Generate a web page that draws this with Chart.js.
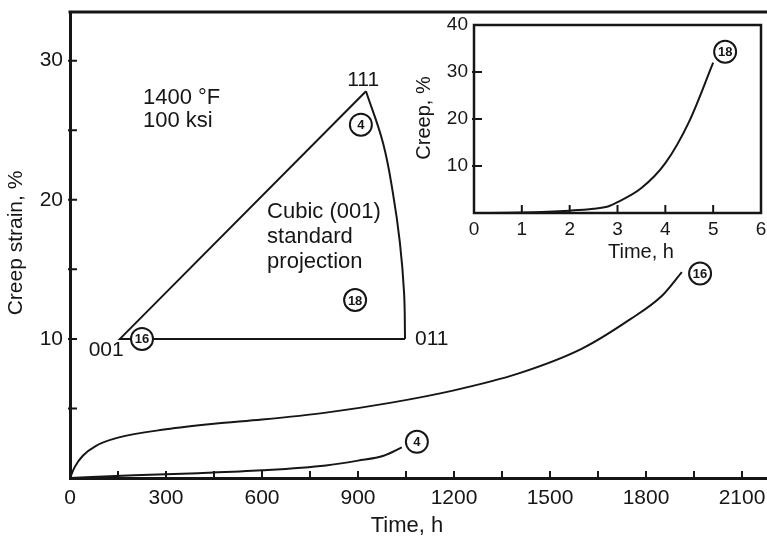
<!DOCTYPE html>
<html>
<head>
<meta charset="utf-8">
<title>Creep strain, 1400 °F / 100 ksi</title>
<script src="https://cdn.jsdelivr.net/npm/chart.js@4.4.0/dist/chart.umd.min.js"></script>
<style>
  html, body { margin: 0; padding: 0; background: #fff; }
  #wrap { position: relative; width: 767px; height: 540px; overflow: hidden; }
  #mainChart { position: absolute; left: 0; top: 0; }
  #insetChart { position: absolute; left: 400px; top: 0; }
</style>
</head>
<body>
<div id="wrap">
  <canvas id="mainChart" width="790" height="540"></canvas>
  <canvas id="insetChart" width="380" height="270"></canvas>
</div>
<script>
// orientation 16 (near 001)
const time16 = [0, 15, 40, 80, 150, 300, 450, 600, 800, 1000, 1200, 1400, 1600, 1750, 1850, 1912];
const strain16 = [0, 0.8, 1.6, 2.3, 2.9, 3.5, 3.9, 4.2, 4.7, 5.4, 6.3, 7.5, 9.3, 11.4, 13.1, 14.8];
// orientation 4 (near 111)
const time4 = [0, 200, 400, 600, 800, 900, 980, 1037];
const strain4 = [0, 0.2, 0.35, 0.55, 0.9, 1.25, 1.6, 2.2];
// orientation 18, inset (hours)
const time18 = [0, 1, 2, 2.5, 2.8, 3.0, 3.5, 4.0, 4.5, 5.0];
const creep18 = [0, 0.1, 0.5, 0.9, 1.4, 2.3, 5.3, 10.6, 19.5, 32.0];

// standard triangle, drawn in the main chart's units
const triEdgeX = [1047, 156, 925];
const triEdgeY = [10, 10, 27.8];
const triArcX = [925, 978, 1009, 1031, 1044, 1047];
const triArcY = [27.8, 24.1, 20.5, 16.9, 13.3, 10];

// ticks and labels
const mainXTicks = [0, 150, 300, 450, 600, 750, 900, 1050, 1200, 1350, 1500, 1650, 1800, 1950, 2100];
const mainXLabels = [0, 300, 600, 900, 1200, 1500, 1800, 2100];
const mainYTicks = [0, 5, 10, 15, 20, 25, 30];
const mainYLabels = [10, 20, 30];
const insetXTicks = [0, 1, 2, 3, 4, 5, 6];
const insetYTicks = [0, 10, 20, 30, 40];
const insetYLabels = [10, 20, 30, 40];

// circled orientation numbers and text notes
const mainCircles = [
  { text: '4', x: 909, y: 25.4 },
  { text: '18', x: 891, y: 12.8 },
  { text: '16', x: 225, y: 10 },
  { text: '16', x: 1969, y: 14.7 },
  { text: '4', x: 1084, y: 2.6 }
];
const insetCircles = [{ text: '18', x: 5.25, y: 34.3 }];
const mainNotes = [
  { text: '1400 °F', x: 228, y: 27.35, align: 'left', size: 22 },
  { text: '100 ksi', x: 228, y: 25.67, align: 'left', size: 22 },
  { text: '111', x: 916, y: 28.6, align: 'center', size: 21 },
  { text: 'Cubic (001)', x: 616, y: 19.1, align: 'left', size: 22 },
  { text: 'standard', x: 616, y: 17.3, align: 'left', size: 22 },
  { text: 'projection', x: 616, y: 15.5, align: 'left', size: 22 },
  { text: '001', x: 113, y: 9.2, align: 'center', size: 21 },
  { text: '011', x: 1078, y: 10, align: 'left', size: 21 }
];

const INK = '#161616';
const FONT = "'Liberation Sans', Arial, Helvetica, sans-serif";

const toPoints = (xs, ys) => xs.map((x, i) => ({ x: x, y: ys[i] }));

// mode: 'monotone' for the creep curves, 'default' for the arc, null for straight edges
function lineSet(xs, ys, mode) {
  return {
    data: toPoints(xs, ys),
    showLine: true,
    borderColor: INK,
    borderWidth: 2,
    pointRadius: 0,
    tension: mode ? 0.4 : 0,
    cubicInterpolationMode: mode || 'default'
  };
}

function drawCircle(ctx, cx, cy, text) {
  ctx.beginPath();
  ctx.arc(cx, cy, 11, 0, Math.PI * 2);
  ctx.fillStyle = '#fff';
  ctx.fill();
  ctx.lineWidth = 2;
  ctx.strokeStyle = INK;
  ctx.stroke();
  ctx.fillStyle = INK;
  ctx.font = "bold 13px 'Liberation Sans Narrow', " + FONT;
  ctx.textAlign = 'center';
  ctx.textBaseline = 'middle';
  ctx.fillText(text, cx, cy + 1);
}

// tick marks point into the plot area
function drawInwardTicks(ctx, area, xScale, yScale, xs, ys, len) {
  ctx.lineWidth = 2;
  ctx.strokeStyle = INK;
  ctx.beginPath();
  xs.forEach(v => {
    const px = xScale.getPixelForValue(v);
    if (px <= area.left + 1 || px >= area.right - 1) return;
    ctx.moveTo(px, area.bottom);
    ctx.lineTo(px, area.bottom - len);
  });
  ys.forEach(v => {
    const py = yScale.getPixelForValue(v);
    if (py >= area.bottom - 1 || py <= area.top + 1) return;
    ctx.moveTo(area.left - 2, py);
    ctx.lineTo(area.left + len, py);
  });
  ctx.stroke();
}

function drawTitle(ctx, text, x, y, size, rotate) {
  ctx.save();
  ctx.translate(x, y);
  if (rotate) ctx.rotate(-Math.PI / 2);
  ctx.fillStyle = INK;
  ctx.font = size + 'px ' + FONT;
  ctx.textAlign = 'center';
  ctx.textBaseline = 'middle';
  ctx.fillText(text, 0, 0);
  ctx.restore();
}

const mainDecor = {
  id: 'mainDecor',
  afterDatasetsDraw(chart) {
    const { ctx, chartArea: area, scales: { x, y } } = chart;
    ctx.save();
    // top frame line runs off the right edge
    ctx.lineWidth = 3;
    ctx.strokeStyle = INK;
    ctx.beginPath();
    ctx.moveTo(area.left - 1.5, area.top);
    ctx.lineTo(chart.width, area.top);
    ctx.stroke();
    drawInwardTicks(ctx, area, x, y, mainXTicks, mainYTicks, 7);

    mainNotes.forEach(n => {
      ctx.fillStyle = INK;
      ctx.font = n.size + 'px ' + FONT;
      ctx.textAlign = n.align;
      ctx.textBaseline = 'middle';
      ctx.fillText(n.text, x.getPixelForValue(n.x), y.getPixelForValue(n.y));
    });
    mainCircles.forEach(c => drawCircle(ctx, x.getPixelForValue(c.x), y.getPixelForValue(c.y), c.text));

    drawTitle(ctx, 'Time, h', 407, 526, 22, false);
    drawTitle(ctx, 'Creep strain, %', 16, 243, 21, true);
    ctx.restore();
  }
};

const insetDecor = {
  id: 'insetDecor',
  afterDatasetsDraw(chart) {
    const { ctx, chartArea: area, scales: { x, y } } = chart;
    ctx.save();
    ctx.lineWidth = 2.5;
    ctx.strokeStyle = INK;
    ctx.strokeRect(area.left, area.top, area.right - area.left, area.bottom - area.top);
    drawInwardTicks(ctx, area, x, y, insetXTicks, insetYTicks, 8);
    insetCircles.forEach(c => drawCircle(ctx, x.getPixelForValue(c.x), y.getPixelForValue(c.y), c.text));
    drawTitle(ctx, 'Time, h', 241, 252, 20, false);
    drawTitle(ctx, 'Creep, %', 24, 118, 20, true);
    ctx.restore();
  }
};

const baseOptions = {
  responsive: false,
  animation: false,
  events: [],
  plugins: { legend: { display: false }, tooltip: { enabled: false } }
};

// fixed box sizes so the plot areas land where they should
const fixX = h => s => { s.height = h; s.paddingLeft = 0; s.paddingRight = 0; };
const fixY = w => s => { s.width = w; s.paddingTop = 0; s.paddingBottom = 0; };
const noGrid = { display: false, drawTicks: false };

new Chart(document.getElementById('mainChart'), {
  type: 'scatter',
  data: {
    datasets: [
      lineSet(time16, strain16, 'monotone'),
      lineSet(time4, strain4, 'monotone'),
      lineSet(triEdgeX, triEdgeY, null),
      lineSet(triArcX, triArcY, 'default')
    ]
  },
  options: Object.assign({}, baseOptions, {
    layout: { padding: { top: 12, right: 16, left: 0, bottom: 0 } },
    scales: {
      x: {
        type: 'linear', min: 0, max: 2200,
        grid: noGrid,
        border: { display: true, width: 3, color: INK },
        afterBuildTicks: s => { s.ticks = mainXTicks.map(v => ({ value: v })); },
        afterFit: fixX(62),
        ticks: {
          autoSkip: false, maxRotation: 0, padding: 8, color: INK,
          font: { family: FONT, size: 21 },
          callback: v => mainXLabels.includes(v) ? String(v) : ''
        }
      },
      y: {
        type: 'linear', min: 0, max: 33.5,
        grid: noGrid,
        border: { display: true, width: 3, color: INK },
        afterBuildTicks: s => { s.ticks = mainYTicks.map(v => ({ value: v })); },
        afterFit: fixY(70),
        ticks: {
          autoSkip: false, padding: 7, color: INK,
          font: { family: FONT, size: 21 },
          callback: v => mainYLabels.includes(v) ? String(v) : ''
        }
      }
    }
  }),
  plugins: [mainDecor]
});

new Chart(document.getElementById('insetChart'), {
  type: 'scatter',
  data: { datasets: [lineSet(time18, creep18, 'monotone')] },
  options: Object.assign({}, baseOptions, {
    layout: { padding: { top: 25, right: 19, left: 0, bottom: 0 } },
    scales: {
      x: {
        type: 'linear', min: 0, max: 6,
        grid: noGrid,
        border: { display: false },
        afterBuildTicks: s => { s.ticks = insetXTicks.map(v => ({ value: v })); },
        afterFit: fixX(57),
        ticks: {
          autoSkip: false, maxRotation: 0, padding: 5, color: INK,
          font: { family: FONT, size: 19 },
          callback: v => String(v)
        }
      },
      y: {
        type: 'linear', min: 0, max: 40,
        grid: noGrid,
        border: { display: false },
        afterBuildTicks: s => { s.ticks = insetYTicks.map(v => ({ value: v })); },
        afterFit: fixY(74),
        ticks: {
          autoSkip: false, padding: 6, color: INK,
          font: { family: FONT, size: 19 },
          callback: v => insetYLabels.includes(v) ? String(v) : ''
        }
      }
    }
  }),
  plugins: [insetDecor]
});
</script>
</body>
</html>
